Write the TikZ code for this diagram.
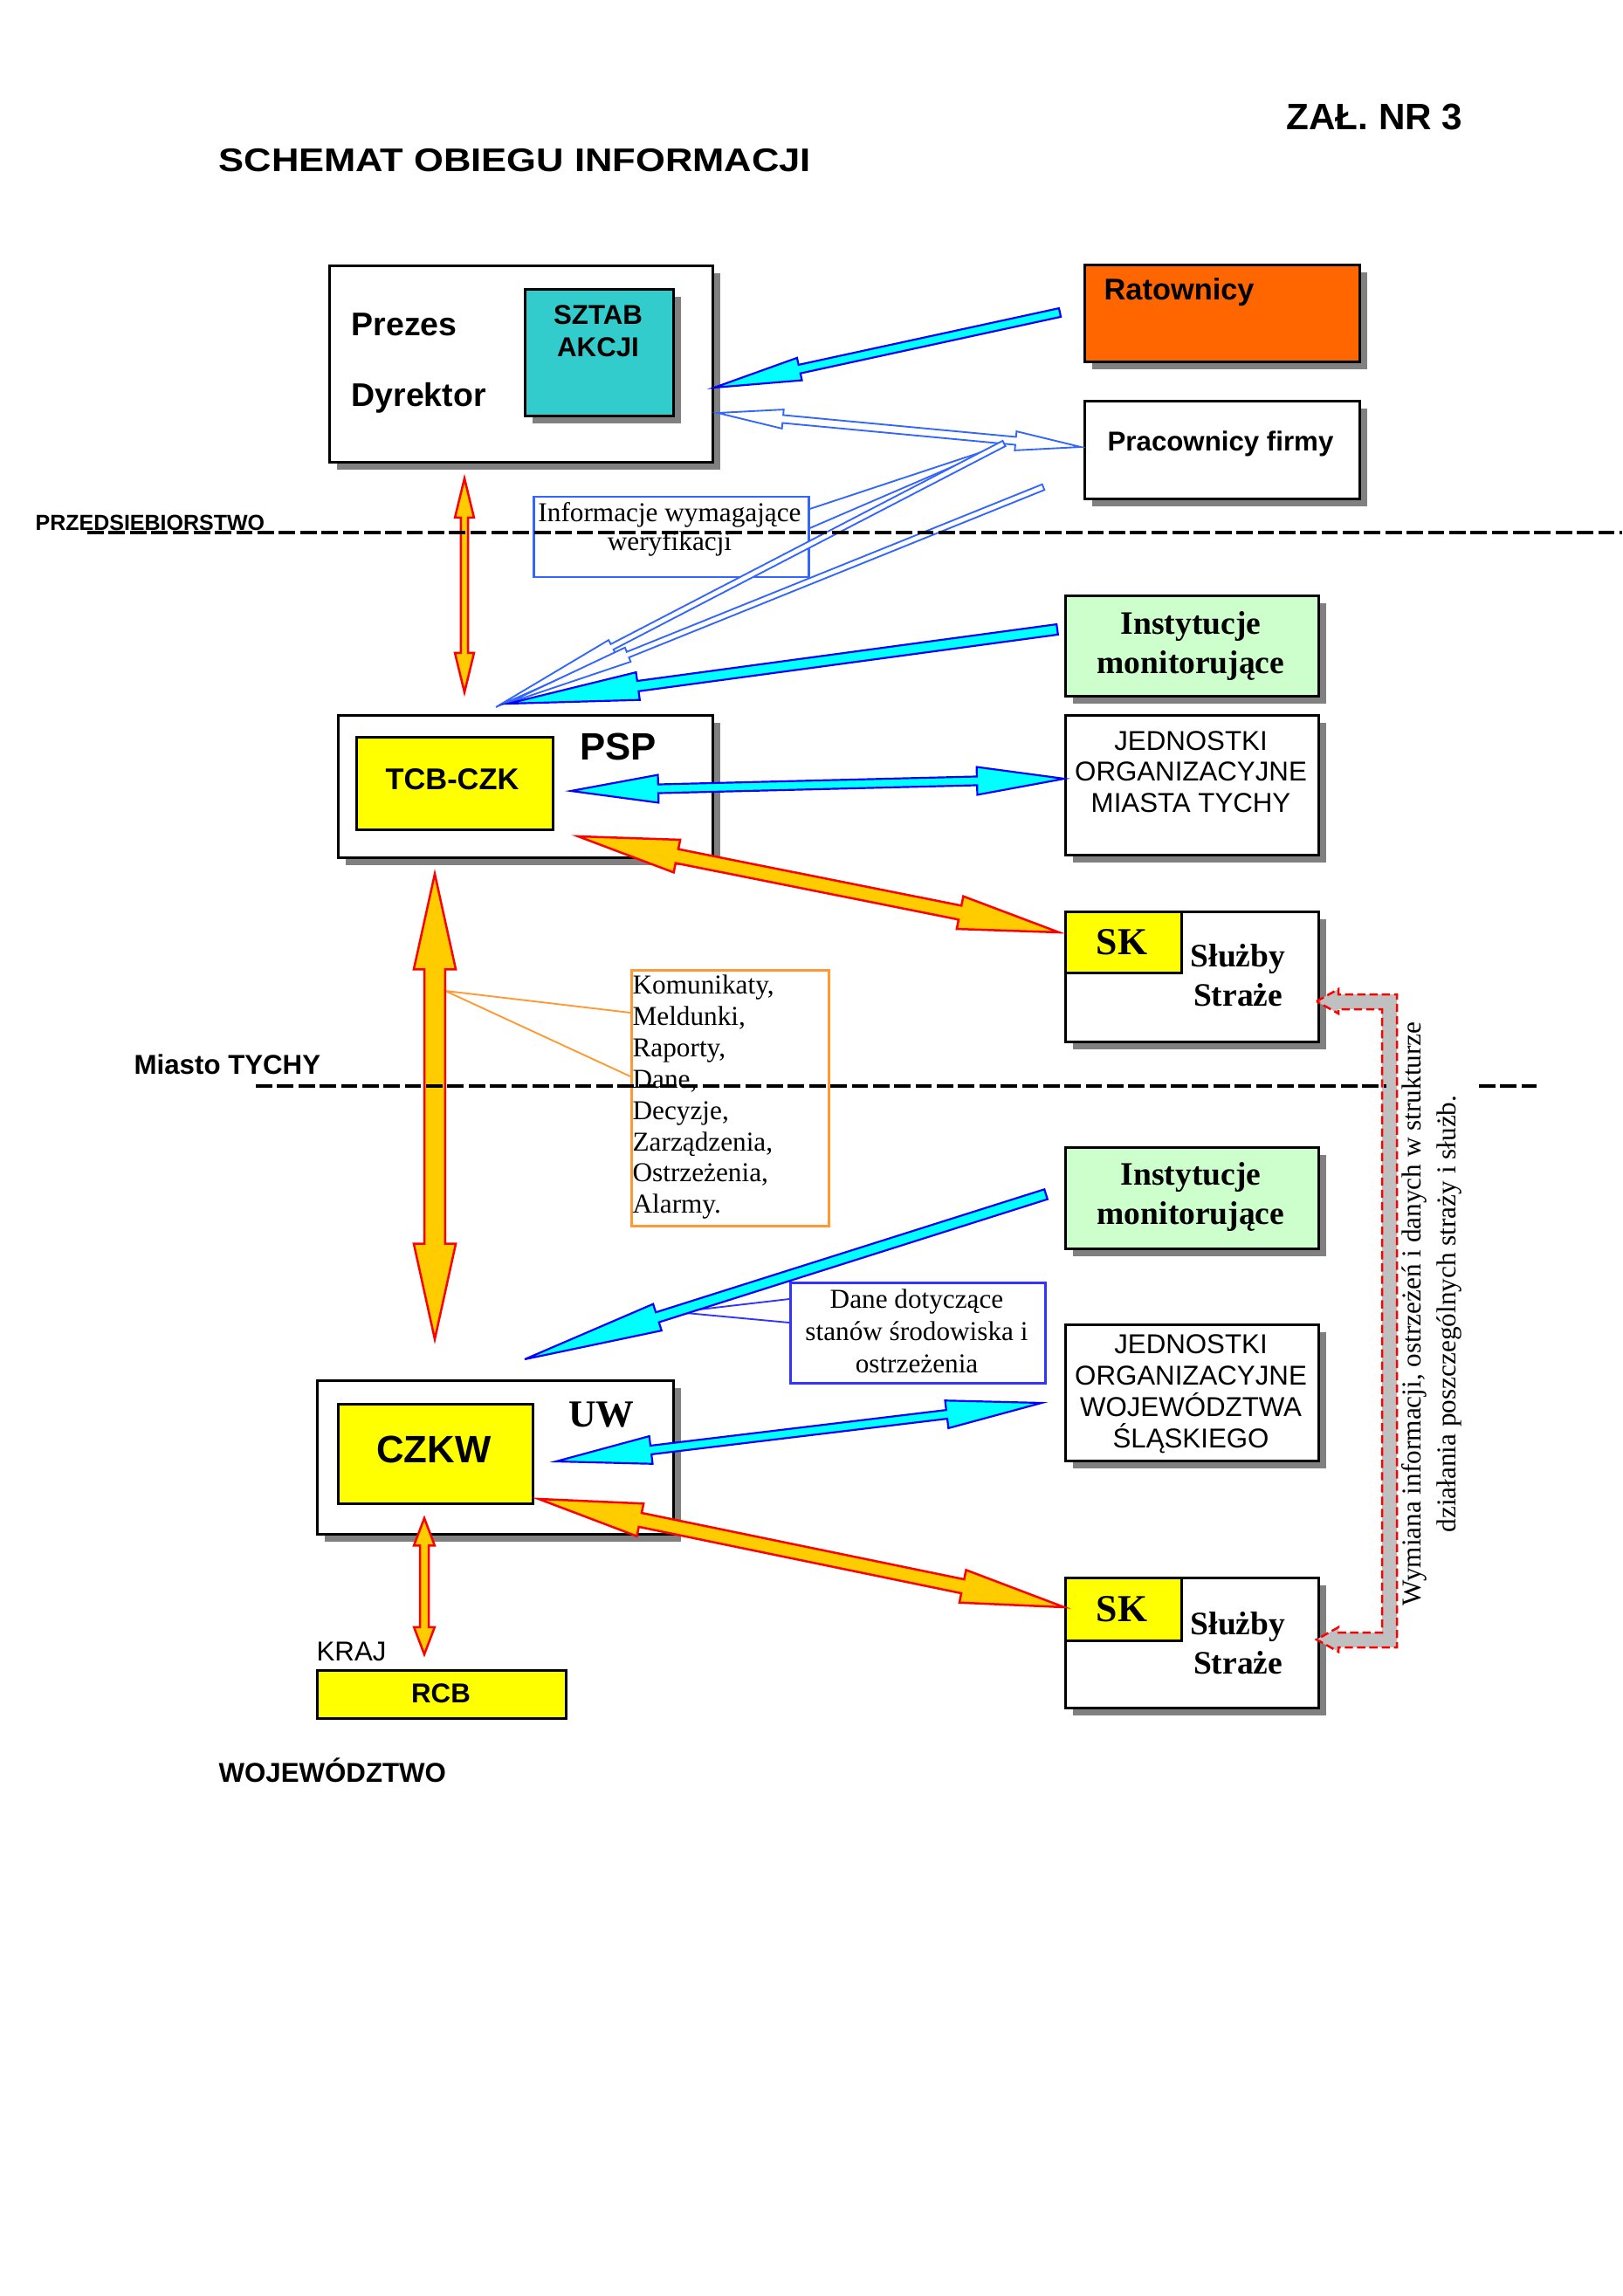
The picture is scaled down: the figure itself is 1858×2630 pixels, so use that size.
\documentclass[tikz,border=0pt]{standalone}
\usepackage{fontspec}
\setmainfont{Liberation Serif}
\newfontfamily\arial{Liberation Sans}
\usetikzlibrary{calc,shadows}
\definecolor{cyanf}{HTML}{00FFFF}
\definecolor{blueo}{HTML}{0000FF}
\definecolor{bluel}{HTML}{3366FF}
\definecolor{orangef}{HTML}{FFCC00}
\definecolor{redo}{HTML}{FF0000}
\definecolor{tealf}{HTML}{33CCCC}
\definecolor{ratf}{HTML}{FF6600}
\definecolor{greenf}{HTML}{CCFFCC}
\definecolor{yellowf}{HTML}{FFFF00}
\definecolor{komo}{HTML}{FF9933}
\definecolor{danel}{HTML}{3333FF}
\definecolor{brgray}{HTML}{C0C0C0}
\definecolor{shadowc}{HTML}{808080}
\newcommand{\onearrow}[6]{%
  \coordinate (hbX) at ($(#3)!#6!(#2)$);
  \draw[#1] ($(#2)!#4!90:(#3)$) -- ($(hbX)!#4!-90:(#2)$) -- ($(hbX)!#5!-90:(#2)$) -- (#3)
    -- ($(hbX)!#5!90:(#2)$) -- ($(hbX)!#4!90:(#2)$) -- ($(#2)!#4!-90:(#3)$) -- cycle;
}
\newcommand{\twoarrow}[6]{%
  \coordinate (haX) at ($(#2)!#6!(#3)$);
  \coordinate (hbX) at ($(#3)!#6!(#2)$);
  \draw[#1] (#2) -- ($(haX)!#5!90:(#3)$) -- ($(haX)!#4!90:(#3)$) -- ($(hbX)!#4!-90:(#2)$)
    -- ($(hbX)!#5!-90:(#2)$) -- (#3) -- ($(hbX)!#5!90:(#2)$) -- ($(hbX)!#4!90:(#2)$)
    -- ($(haX)!#4!-90:(#3)$) -- ($(haX)!#5!-90:(#3)$) -- cycle;
}
\begin{document}
\begin{tikzpicture}[x=0.32pt,y=-0.32pt,
  shad/.style={drop shadow={shadow xshift=2.6pt,shadow yshift=-2.6pt,fill=shadowc,opacity=1}},
  mainbox/.style={draw=black,line width=1pt,fill=white,inner sep=0pt,anchor=north west,shad},
  innerbox/.style={draw=black,line width=0.9pt,inner sep=0pt,anchor=north west},
  labelbox/.style={line width=0.8pt,fill=white,inner sep=0pt,anchor=north west},
  sansb/.style={font=\arial\bfseries\fontsize{#1}{#1}\selectfont},
  sansr/.style={font=\arial\fontsize{10}{11.4}\selectfont,align=center},
  serifb/.style={font=\bfseries\fontsize{#1}{14.2}\selectfont,align=center},
  cyanarrow/.style={fill=cyanf,draw=blueo,line width=0.7pt,line join=miter},
  hollowarrow/.style={fill=white,draw=bluel,line width=0.6pt},
  orangearrow/.style={fill=orangef,draw=redo,line width=0.8pt},
  divider/.style={draw=black,line width=1.3pt,dash pattern=on 6pt off 1.8pt},
  callout/.style={line width=0.6pt}
]
\useasboundingbox (0,0) rectangle (1858,2630);

% ---------- titles ----------
\node[anchor=west,inner sep=0pt,sansb=12] (title) at (250,184) {\scalebox{1.16}[1]{SCHEMAT OBIEGU INFORMACJI}};
\node[anchor=west,inner sep=0pt,sansb=13.5] (zal) at (1473,134) {ZAŁ. NR 3};

% ---------- boxes ----------
\node[mainbox,minimum width=140.48pt,minimum height=72pt] (prezes) at (376,303) {};
\node[innerbox,fill=tealf,shad,minimum width=54.4pt,minimum height=46.4pt] (sztab) at (600,330) {};
\node[anchor=west,inner sep=0pt,sansb=12] (prezesT) at (402,372) {Prezes};
\node[anchor=west,inner sep=0pt,sansb=12] (dyrT) at (402,456) {Dyrektor};
\node[sansb=10,align=center,inner sep=0pt,font=\arial\bfseries\fontsize{10}{11.8}\selectfont] (sztabT) at (685,379) {SZTAB\\AKCJI};

\node[mainbox,fill=ratf,minimum width=100.8pt,minimum height=35.52pt] (ratow) at (1241,302) {};
\node[anchor=west,inner sep=0pt,sansb=11] (ratowT) at (1264,335) {Ratownicy};

\node[mainbox,minimum width=100.8pt,minimum height=35.84pt] (pracow) at (1241,458) {};
\node[inner sep=0pt,sansb=10] (pracowT) at (1398,508) {Pracownicy firmy};

\node[labelbox,draw=bluel,minimum width=100.8pt,minimum height=29.44pt] (info) at (610,568) {};
\node[inner sep=0pt,align=center,font=\fontsize{10}{10.6}\selectfont] (infoT) at (767,606) {Informacje wymagające\\weryfikacji};

\node[mainbox,fill=greenf,minimum width=92.8pt,minimum height=36.8pt] (inst1) at (1219,681) {};
\node[inner sep=0pt,serifb=12] (inst1T) at (1364,740) {Instytucje\\monitorujące};

\node[mainbox,minimum width=137.28pt,minimum height=52.16pt] (psp) at (386,818) {};
\node[innerbox,fill=yellowf,minimum width=72pt,minimum height=33.92pt] (tcb) at (407,843) {};
\node[inner sep=0pt,sansb=11] (tcbT) at (518,893) {TCB-CZK};
\node[inner sep=0pt,sansb=14] (pspT) at (708,855) {PSP};

\node[mainbox,minimum width=92.8pt,minimum height=51.2pt] (jedn1) at (1219,818) {};
\node[inner sep=0pt,sansr] (jedn1T) at (1364,884) {JEDNOSTKI\\ORGANIZACYJNE\\MIASTA TYCHY};

\node[mainbox,minimum width=92.8pt,minimum height=47.68pt] (sk1) at (1219,1043) {};
\node[innerbox,fill=yellowf,minimum width=42.56pt,minimum height=22.4pt] (sk1y) at (1219,1043) {};
\node[inner sep=0pt,serifb=14] (sk1T) at (1285,1079) {SK};
\node[inner sep=0pt,serifb=12] (sk1S) at (1418,1117) {Służby\\Straże};

\node[labelbox,draw=komo,minimum width=72.32pt,minimum height=93.76pt] (koms) at (722,1110) {};
\node[anchor=north west,inner sep=0pt,align=left,font=\fontsize{10}{11.5}\selectfont] (komsT) at (724,1116)
  {Komunikaty,\\Meldunki,\\Raporty,\\Dane,\\Decyzje,\\Zarządzenia,\\Ostrzeżenia,\\Alarmy.};

\node[mainbox,fill=greenf,minimum width=92.8pt,minimum height=37.12pt] (inst2) at (1219,1313) {};
\node[inner sep=0pt,serifb=12] (inst2T) at (1364,1371) {Instytucje\\monitorujące};

\node[labelbox,draw=danel,minimum width=93.44pt,minimum height=36.8pt] (dane) at (904,1468) {};
\node[inner sep=0pt,align=center,font=\fontsize{10}{11.8}\selectfont] (daneT) at (1050,1525) {Dane dotyczące\\stanów środowiska i\\ostrzeżenia};

\node[mainbox,minimum width=92.8pt,minimum height=49.92pt] (jedn2) at (1219,1516) {};
\node[inner sep=0pt,sansr,font=\arial\fontsize{10}{11.5}\selectfont] (jedn2T) at (1364,1597) {JEDNOSTKI\\ORGANIZACYJNE\\WOJEWÓDZTWA\\ŚLĄSKIEGO};

\node[mainbox,minimum width=130.56pt,minimum height=56.32pt] (uw) at (362,1580) {};
\node[innerbox,fill=yellowf,minimum width=71.36pt,minimum height=36.48pt] (czkw) at (386,1607) {};
\node[inner sep=0pt,sansb=14] (czkwT) at (497,1660) {CZKW};
\node[inner sep=0pt,serifb=14] (uwT) at (689,1620) {UW};

\node[mainbox,minimum width=92.8pt,minimum height=47.68pt] (sk2) at (1219,1806) {};
\node[innerbox,fill=yellowf,minimum width=42.56pt,minimum height=23.04pt] (sk2y) at (1219,1806) {};
\node[inner sep=0pt,serifb=14] (sk2T) at (1285,1843) {SK};
\node[inner sep=0pt,serifb=12] (sk2S) at (1418,1882) {Służby\\Straże};

\node[innerbox,fill=yellowf,minimum width=91.2pt,minimum height=17.6pt] (rcb) at (362,1912) {};
\node[inner sep=0pt,sansb=10] (rcbT) at (505,1940) {RCB};

% ---------- region labels ----------
\node[anchor=west,inner sep=0pt,sansb=8] (przed) at (40,599) {PRZEDSIEBIORSTWO};
\node[anchor=west,inner sep=0pt,sansb=10] (miasto) at (153,1219) {Miasto TYCHY};
\node[anchor=west,inner sep=0pt,font=\arial\fontsize{10}{11}\selectfont] (kraj) at (362,1892) {KRAJ};
\node[anchor=west,inner sep=0pt,sansb=10] (woj) at (250,2028) {WOJEWÓDZTWO};
\node[rotate=90,inner sep=0pt,align=center,font=\fontsize{10}{12.8}\selectfont] (wymiana) at (1640,1505)
  {Wymiana informacji, ostrzeżeń i danych w strukturze\\działania poszczególnych straży i służb.};

% ---------- callouts ----------
\coordinate (infoC) at (1148,510);
\draw[callout,draw=bluel] ($(info.north east)+(0,15)$) -- (infoC) -- ($(info.north east)+(0,37)$);
\coordinate (komsC) at (510,1135);
\draw[callout,draw=komo] ($(koms.north west)+(0,50)$) -- (komsC) -- ($(koms.north west)+(0,123)$);
\coordinate (daneC) at (775,1503);
\draw[callout,draw=danel] ($(dane.north west)+(0,20)$) -- (daneC) -- ($(dane.north west)+(0,47)$);

% ---------- arrow end points ----------
\coordinate (a1s) at (1214,358);  \coordinate (a1e) at (818,444);
\coordinate (a2s) at (822,473);   \coordinate (a2e) at (1238,512);
\coordinate (a3s) at (1150,508);  \coordinate (a3e) at (568,810);
\coordinate (a4s) at (1195,558);  \coordinate (a4e) at (580,806);
\coordinate (a5s) at (1211,721);  \coordinate (a5e) at (582,806);
\coordinate (a6s) at (654,906);   \coordinate (a6e) at (1219,892);
\coordinate (a7s) at (662,958);   \coordinate (a7e) at (1213,1068);
\coordinate (a8s) at (498,1001);  \coordinate (a8e) at (498,1534);
\coordinate (a9s) at (1198,1368); \coordinate (a9e) at (601,1557);
\coordinate (a10s) at (637,1674); \coordinate (a10e) at (1193,1607);
\coordinate (a11s) at (617,1717); \coordinate (a11e) at (1219,1841);
\coordinate (a12s) at (486,1739); \coordinate (a12e) at (486,1895);
\coordinate (a13s) at (532,548);  \coordinate (a13e) at (532,793);

% ---------- arrows ----------
\onearrow{cyanarrow}{a1s}{a1e}{1.6pt}{4.2pt}{32pt}
\twoarrow{hollowarrow}{a2s}{a2e}{1.45pt}{3.5pt}{24pt}
\onearrow{hollowarrow}{a3s}{a3e}{1.1pt}{2.8pt}{48pt}
\onearrow{hollowarrow}{a4s}{a4e}{1.1pt}{2.8pt}{48pt}
\onearrow{cyanarrow}{a5s}{a5e}{1.9pt}{5.1pt}{48pt}
\twoarrow{cyanarrow}{a6s}{a6e}{1.6pt}{5.1pt}{32pt}
\twoarrow{orangearrow}{a7s}{a7e}{2.6pt}{6.1pt}{37pt}
\twoarrow{orangearrow}{a8s}{a8e}{3.8pt}{7.7pt}{35pt}
\onearrow{cyanarrow}{a9s}{a9e}{1.9pt}{5.1pt}{51pt}
\twoarrow{cyanarrow}{a10s}{a10e}{1.6pt}{5.1pt}{35pt}
\twoarrow{orangearrow}{a11s}{a11e}{2.6pt}{6.1pt}{38pt}
\twoarrow{orangearrow}{a12s}{a12e}{1.6pt}{3.8pt}{10pt}
\twoarrow{orangearrow}{a13s}{a13e}{1.3pt}{3.5pt}{14.4pt}

% ---------- red dashed bracket between SK boxes ----------
\coordinate (brTop) at (1508,1147);
\coordinate (brBot) at (1508,1878);
\draw[fill=brgray,draw=redo,line width=0.8pt,dash pattern=on 3pt off 1.5pt]
  (brTop) -- ++(25,-14) -- ++(0,6) -- (1600,1139) -- (1600,1887) -- (1533,1887) -- (1533,1892)
  -- (brBot) -- (1533,1864) -- (1533,1870) -- (1583,1870) -- (1583,1156) -- (1533,1156)
  -- (1533,1161) -- cycle;

% ---------- dividers ----------
\coordinate (d1a) at (100,610);  \coordinate (d1b) at (1858,610);
\coordinate (d2a) at (293,1244); \coordinate (d2b) at (1588,1244);
\coordinate (d3a) at (1694,1244); \coordinate (d3b) at (1760,1244);
\draw[divider] (d1a) -- (d1b);
\draw[divider] (d2a) -- (d2b);
\draw[divider] (d3a) -- (d3b);
\end{tikzpicture}
\end{document}
